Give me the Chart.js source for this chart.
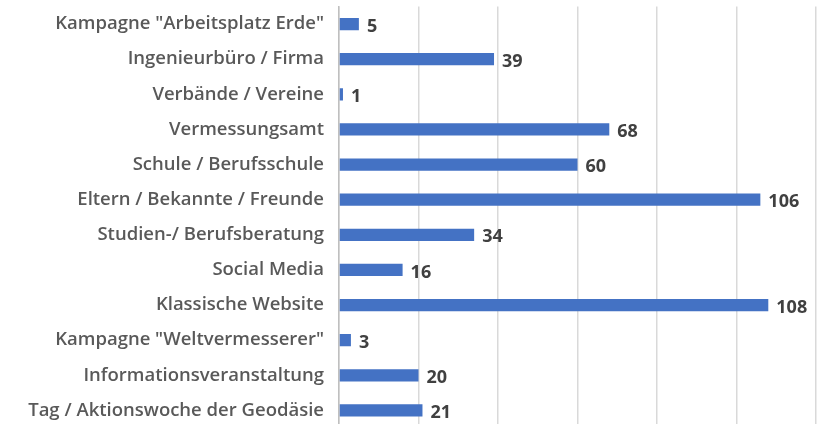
<!DOCTYPE html>
<html lang="de">
<head>
<meta charset="UTF-8">
<title>Informationsquellen</title>
<script src="https://cdn.jsdelivr.net/npm/chart.js"></script>
<style>
  html, body { margin: 0; padding: 0; background: #fff; overflow: hidden; }
  #wrap { width: 819px; height: 428px; }
</style>
</head>
<body>
<div id="wrap"><canvas id="chart"></canvas></div>
<script>
// categories top to bottom
const categories = [
  'Kampagne "Arbeitsplatz Erde"',
  'Ingenieurbüro / Firma',
  'Verbände / Vereine',
  'Vermessungsamt',
  'Schule / Berufsschule',
  'Eltern / Bekannte / Freunde',
  'Studien-/ Berufsberatung',
  'Social Media',
  'Klassische Website',
  'Kampagne "Weltvermesserer"',
  'Informationsveranstaltung',
  'Tag / Aktionswoche der Geodäsie'
];
const counts = [5, 39, 1, 68, 60, 106, 34, 16, 108, 3, 20, 21];
const xTicks = [0, 20, 40, 60, 80, 100, 120];

const FONT = '"Open Sans", Roboto, sans-serif';

// value labels next to bar ends
const valueLabels = {
  id: 'valueLabels',
  afterDatasetsDraw(chart) {
    const ctx = chart.ctx;
    const meta = chart.getDatasetMeta(0);
    ctx.save();
    ctx.font = 'bold 18px ' + FONT;
    ctx.fillStyle = '#404040';
    ctx.textAlign = 'left';
    ctx.textBaseline = 'middle';
    meta.data.forEach((bar, i) => {
      ctx.fillText(String(counts[i]), bar.x + 8, bar.y + 2.5);
    });
    ctx.restore();
  }
};

const chart = new Chart(document.getElementById('chart'), {
  type: 'bar',
  data: {
    labels: categories,
    datasets: [{
      data: counts,
      backgroundColor: '#4472C4',
      borderWidth: 0,
      barPercentage: 0.35,
      categoryPercentage: 1
    }]
  },
  options: {
    indexAxis: 'y',
    responsive: true,
    maintainAspectRatio: false,
    animation: false,
    layout: { padding: { top: 6.5, right: 3, bottom: 0, left: 0 } },
    plugins: {
      legend: { display: false },
      tooltip: { enabled: false }
    },
    scales: {
      x: {
        min: xTicks[0],
        max: xTicks[xTicks.length - 1],
        afterBuildTicks(scale) {
          scale.ticks = xTicks.map(v => ({ value: v }));
        },
        afterFit(scale) {
          scale.height = 0;
          scale.paddingLeft = 0;
          scale.paddingRight = 0;
        },
        ticks: { display: false },
        grid: { color: '#d9d9d9', lineWidth: 1.5, drawTicks: false },
        border: { display: false }
      },
      y: {
        afterFit(scale) {
          scale.width = 339;
          scale.paddingTop = 0;
          scale.paddingBottom = 0;
        },
        ticks: {
          color: '#595959',
          font: { family: FONT, size: 18.5, weight: '600' },
          padding: 15
        },
        grid: { display: false, drawTicks: false },
        border: { display: true, color: '#bfbfbf', width: 1.5 }
      }
    }
  },
  plugins: [valueLabels]
});
</script>
</body>
</html>
